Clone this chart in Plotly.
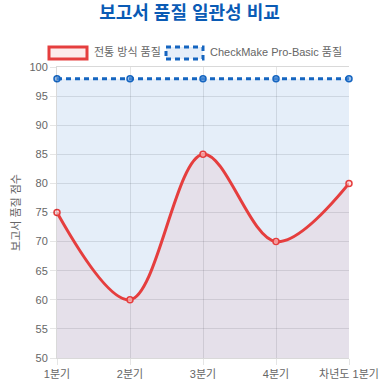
import plotly.graph_objects as go

categories = ["1분기", "2분기", "3분기", "4분기", "차년도 1분기"]
traditional = [75, 60, 85, 70, 80]
checkmake = [98, 98, 98, 98, 98]
y_ticks = [50, 55, 60, 65, 70, 75, 80, 85, 90, 95, 100]
series_names = ["전통 방식 품질", "CheckMake Pro-Basic 품질"]

RED = "#e53e3e"
BLUE = "#1565c0"
xs = list(range(len(categories)))
font = "Liberation Sans, Noto Sans CJK KR, sans-serif"

fig = go.Figure()
fig.add_trace(go.Scatter(
    x=xs, y=checkmake, name=series_names[1], showlegend=False, cliponaxis=False,
    mode="lines+markers", fill="tozeroy", fillcolor="rgba(0,90,200,0.1)",
    line=dict(color=BLUE, width=3, dash="5px,4px"),
    marker=dict(size=6, color="rgba(90,150,220,0.6)", line=dict(color=BLUE, width=1.5)),
))
fig.add_trace(go.Scatter(
    x=xs, y=traditional, name=series_names[0], showlegend=False, cliponaxis=False,
    mode="lines+markers", fill="tozeroy", fillcolor="rgba(229,62,62,0.08)",
    line=dict(color=RED, width=3, shape="spline", smoothing=1.0),
    marker=dict(size=6, color="rgba(255,210,210,0.6)", line=dict(color=RED, width=1.5)),
))

# plot area in pixels: x 57..349, y 67..358
PW, PH, PL, PB = 292, 291, 57, 358


def px(x):
    return (x - PL) / PW


def py(y):
    return (PB - y) / PH


# custom Chart.js-style legend (boxes + labels)
shapes = [
    dict(type="rect", xref="paper", yref="paper", x0=px(49), x1=px(87), y0=py(59), y1=py(47),
         fillcolor="rgba(229,62,62,0.1)", line=dict(color=RED, width=3)),
    dict(type="rect", xref="paper", yref="paper", x0=px(166), x1=px(203), y0=py(59), y1=py(47),
         fillcolor="rgba(0,90,200,0.1)", line=dict(color=BLUE, width=3, dash="5px,4px")),
]
annotations = [
    dict(text=series_names[0], xref="paper", yref="paper", x=px(92), y=py(52),
         xanchor="left", yanchor="middle", showarrow=False, font=dict(size=11, color="#666", family=font)),
    dict(text=series_names[1], xref="paper", yref="paper", x=px(208), y=py(52),
         xanchor="left", yanchor="middle", showarrow=False, font=dict(size=11, color="#666", family=font)),
]

fig.update_layout(
    width=379, height=383,
    margin=dict(l=57, r=30, t=67, b=25, autoexpand=False),
    paper_bgcolor="white", plot_bgcolor="white",
    font=dict(family=font, color="#666", size=11),
    title=dict(text="<b>보고서 품질 일관성 비교</b>", x=0.5, xanchor="center", y=1 - 13 / 383, yanchor="middle",
               font=dict(size=18, color="#0a5bb5", family=font)),
    showlegend=False,
    shapes=shapes,
    annotations=annotations,
)
fig.update_xaxes(range=[0, 4], tickvals=xs, ticktext=categories, showgrid=True, automargin=False,
                 gridcolor="rgba(0,0,0,0.1)", zeroline=False, showline=True, linecolor="rgba(0,0,0,0.15)",
                 mirror=True,
                 ticks="outside", ticklen=6, tickcolor="rgba(0,0,0,0.1)", tickfont=dict(size=11, color="#666"))
fig.update_yaxes(range=[50, 100], tickvals=y_ticks, showgrid=True, gridcolor="rgba(0,0,0,0.1)", automargin=False,
                 zeroline=False, showline=True, linecolor="rgba(0,0,0,0.15)",
                 ticks="outside", ticklen=6, tickcolor="rgba(0,0,0,0.1)",
                 title=dict(text="보고서 품질 점수", font=dict(size=11, color="#666"), standoff=6),
                 tickfont=dict(size=11, color="#666"))

fig.write_html("out.html", config={"displayModeBar": False},
               post_script="document.body.style.margin='0';document.body.style.overflow='hidden';")
